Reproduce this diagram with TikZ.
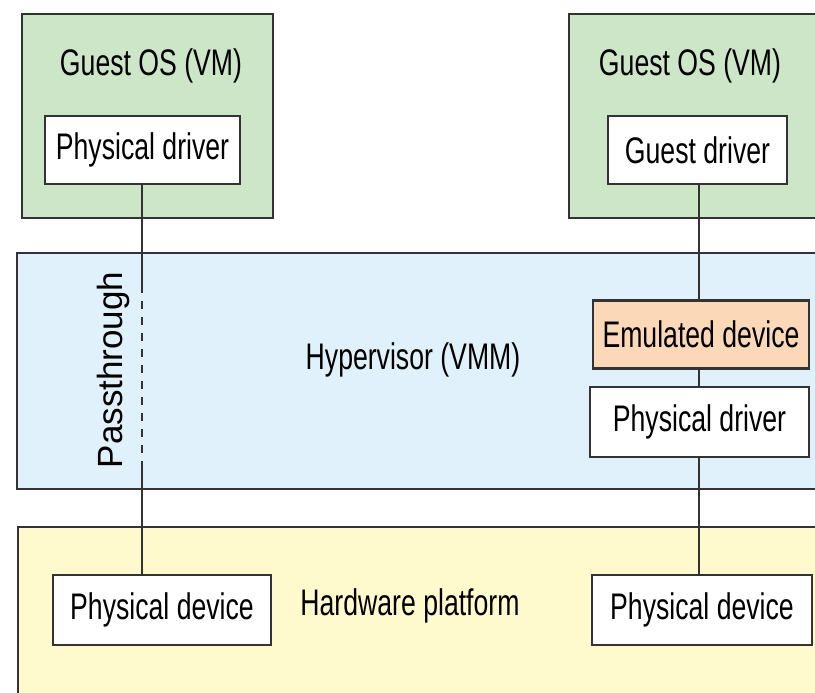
\documentclass[tikz,border=0pt]{standalone}
\usepackage{fontspec}
\setmainfont[FakeStretch=0.72]{Liberation Sans}
\newfontfamily\widefont{Liberation Sans}
\usetikzlibrary{positioning}

\begin{document}
\begin{tikzpicture}[
    x=0.5pt, y=-0.5pt,
    font=\fontsize{18.5}{20}\selectfont,
    layer/.style={
        draw=edgecol,
        line width=1.2pt
    },
    unit/.style={
        draw=edgecol,
        line width=1.1pt,
        fill=white,
        minimum height=34pt,
        inner sep=0pt
    },
    link/.style={
        draw=edgecol,
        line width=0.8pt
    }
]

\colorlet{edgecol}{black!80}
\definecolor{guestcol}{HTML}{CDE6C7}
\definecolor{hypcol}{HTML}{E0F1FB}
\definecolor{hwcol}{HTML}{FFFACD}
\definecolor{emucol}{HTML}{FBD9B8}

\useasboundingbox (0,0) rectangle (815,692);

\draw[layer, fill=guestcol] (22,14) rectangle (273,218);
\draw[layer, fill=guestcol] (569,14) rectangle (840,218);
\draw[layer, fill=hypcol] (17,253) rectangle (840,489);
\draw[layer, fill=hwcol] (18,527) rectangle (840,710);

\node (guestL) at (151,66) {Guest OS (VM)};
\node (guestR) at (690,66) {Guest OS (VM)};
\node (hyp) at (413,360) {Hypervisor (VMM)};
\node (hw) at (410,606) {Hardware platform};
\node[rotate=90, font=\widefont\fontsize{17.5}{20}\selectfont] (pass) at (113,370)
    {Passthrough};

\node[unit, minimum width=97.5pt] (pdrvL) at (142.5,150) {Physical driver};
\node[unit, minimum width=89.5pt] (gdrv) at (697.5,150) {Guest driver};
\node[unit, minimum width=108pt, fill=emucol] (emul) at (701,334.5) {Emulated device};
\node[unit, minimum width=109.5pt, minimum height=35pt] (pdrvR) at (699.5,422)
    {Physical driver};
\node[unit, minimum width=109pt, minimum height=35pt] (pdevL) at (162,610)
    {Physical device};
\node[unit, minimum width=110pt, minimum height=35pt] (pdevR) at (702,610)
    {Physical device};

\coordinate (dashTop) at (142,285);
\coordinate (dashBot) at (142,467);
\coordinate (rline) at (699,0);

\draw[link] (pdrvL.south -| dashTop) -- (dashTop);
\draw[link, dash pattern=on 4pt off 4pt] (dashTop) -- (dashBot);
\draw[link] (dashBot) -- (dashBot |- pdevL.north);

\draw[link] (rline |- gdrv.south) -- (rline |- emul.north);
\draw[link] (rline |- emul.south) -- (rline |- pdrvR.north);
\draw[link] (rline |- pdrvR.south) -- (rline |- pdevR.north);

\end{tikzpicture}
\end{document}
